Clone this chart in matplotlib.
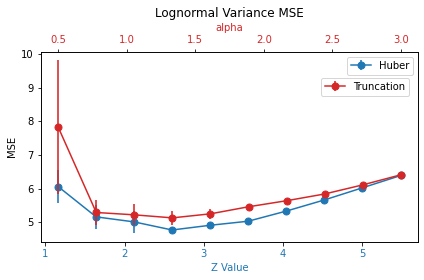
import numpy as np
import matplotlib
matplotlib.use('Agg')
import matplotlib.pyplot as plt
from matplotlib.colors import to_rgba

# Werte
z_vals = [1.16, 1.64, 2.12, 2.60, 3.08, 3.56, 4.04, 4.52, 5.00, 5.49]
alpha_vals = [0.5, 0.778, 1.056, 1.333, 1.611, 1.889, 2.167, 2.444, 2.722, 3.0]

huber_mse = [6.06, 5.16, 5.01, 4.77, 4.91, 5.03, 5.33, 5.66, 6.02, 6.39]
huber_err = [0.50, 0.35, 0.32, 0.10, 0.05, 0.03, 0.03, 0.03, 0.03, 0.03]

trunc_mse = [7.83, 5.29, 5.22, 5.13, 5.25, 5.46, 5.64, 5.84, 6.11, 6.41]
trunc_err = [1.98, 0.37, 0.31, 0.21, 0.14, 0.08, 0.05, 0.04, 0.04, 0.04]

blue = 'tab:blue'
red = 'tab:red'

fig = plt.figure(figsize=(424/72, 280/72), dpi=72)
ax1 = fig.add_axes([41/424, 1-242/280, 377/424, 190.3/280])

ax1.errorbar(z_vals, huber_mse, yerr=huber_err, color=blue, marker='o', markersize=7,
             ecolor=to_rgba(blue, 0.8), elinewidth=2, label='Huber')
ax1.set_xlabel('Z Value', color=blue)
ax1.set_ylabel('MSE')
ax1.tick_params(axis='x', labelcolor=blue)

ax2 = ax1.twiny()
ax2.errorbar(alpha_vals, trunc_mse, yerr=trunc_err, color=red, marker='o', markersize=7,
             ecolor=to_rgba(red, 0.8), elinewidth=2, label='Truncation')
ax2.set_xlabel('alpha', color=red)
ax2.tick_params(axis='x', labelcolor=red)
ax2.set_title('Lognormal Variance MSE')

ax1.legend(loc='upper right')
ax2.legend(loc='upper right', bbox_to_anchor=(0.99, 0.89))

plt.savefig('out.png', dpi=72)
